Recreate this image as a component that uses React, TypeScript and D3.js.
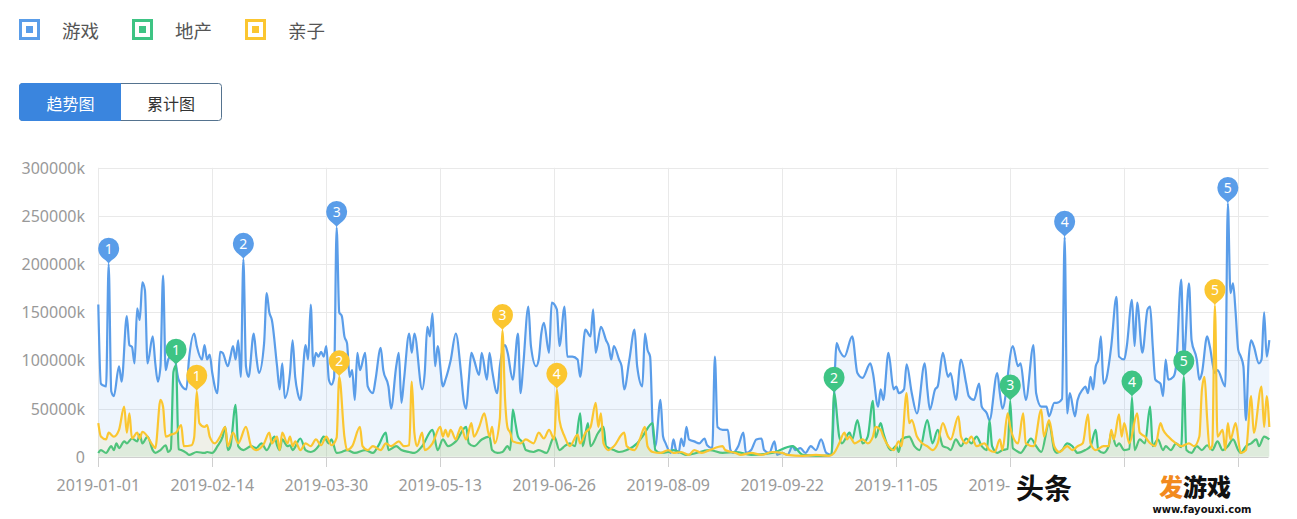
import React from "react";
import * as d3 from "d3";

// ---------- data ----------
const START = "2019-01-01";
const END = "2020-03-28";
const tickLabels = [
  "2019-01-01", "2019-02-14", "2019-03-30", "2019-05-13", "2019-06-26", "2019-08-09",
  "2019-09-22", "2019-11-05", "2019-12-19", "2020-02-01", "2020-03-16",
];
// tick labels hidden under the watermark in the reference
const hiddenTickLabels = ["2020-02-01", "2020-03-16"];
// values in units of 1000k
const yTicks = [0, 50, 100, 150, 200, 250, 300];
const seriesNames = ["游戏", "地产", "亲子"];
const buttonLabels = ["趋势图", "累计图"];

// [day offset from START, value]
const gamePoints: [number, number][] = [
  [0,158],[1,76],[2,74],[3,73],[4,200],[5,68],[6,63],[8,94],[9,78],[11,146],[12,116],[13,114],[14,97],[15,154],[16,142],[17,181],[18,173],[19,97],[21,125],[22,97],[23,78],[24,94],[25,188],[26,90],[27,101],[29,108],[31,80],[34,70],[35,101],[37,128],[38,115],[40,101],[41,116],[42,101],[43,106],[44,87],[46,66],[47,109],[48,108],[50,94],[51,104],[52,115],[53,101],[54,121],[55,83],[56,205],[57,94],[58,83],[60,128],[61,104],[62,87],[64,118],[65,170],[66,150],[67,142],[69,94],[70,70],[71,97],[72,61],[74,87],[75,121],[76,83],[77,66],[78,59],[80,116],[81,101],[82,158],[83,94],[84,108],[85,104],[86,109],[87,104],[88,115],[89,80],[90,75],[91,82],[92,238],[93,150],[94,146],[95,125],[96,118],[97,83],[98,90],[99,59],[100,108],[101,90],[103,108],[104,73],[106,66],[107,80],[109,113],[110,90],[112,73],[113,50],[115,94],[116,108],[117,56],[118,80],[120,128],[121,108],[122,128],[125,70],[126,87],[127,135],[128,125],[129,149],[130,94],[131,115],[133,73],[134,80],[136,100],[138,128],[140,87],[141,59],[142,50],[143,80],[144,108],[145,101],[147,85],[148,108],[150,80],[151,108],[152,90],[154,66],[155,94],[157,116],[158,108],[160,80],[162,128],[163,66],[164,94],[166,156],[167,115],[169,94],[170,101],[171,128],[172,139],[174,108],[175,160],[177,153],[178,115],[180,156],[181,104],[183,104],[185,101],[186,83],[188,132],[190,125],[191,153],[192,108],[194,135],[196,121],[197,115],[198,101],[199,115],[201,101],[202,94],[203,70],[205,101],[207,132],[208,94],[210,73],[211,128],[212,111],[213,104],[214,31],[215,11],[217,59],[218,21],[219,14],[221,4],[222,18],[223,7],[224,4],[225,19],[226,11],[227,31],[228,18],[230,16],[232,14],[234,19],[235,12],[237,9],[238,104],[239,31],[241,28],[243,28],[244,7],[245,4],[247,11],[249,25],[250,4],[252,7],[254,18],[256,19],[257,7],[259,4],[261,16],[262,2],[264,4],[266,2],[268,11],[269,7],[271,9],[273,4],[275,11],[277,7],[279,18],[281,4],[283,2],[285,118],[286,111],[288,104],[291,125],[293,87],[295,82],[298,97],[299,87],[301,52],[302,70],[303,59],[305,108],[307,70],[308,73],[309,66],[311,70],[312,96],[314,66],[316,45],[319,97],[320,70],[321,49],[323,70],[324,73],[326,108],[328,83],[329,87],[331,59],[333,101],[335,76],[336,63],[338,59],[340,76],[341,52],[343,45],[344,38],[347,87],[348,66],[349,50],[353,115],[355,94],[356,97],[358,59],[361,116],[362,66],[364,52],[366,52],[367,42],[369,56],[370,56],[372,60],[373,228],[374,45],[375,66],[377,42],[378,59],[380,70],[381,73],[382,66],[383,83],[384,70],[385,94],[386,101],[387,125],[388,76],[389,80],[391,115],[393,166],[394,104],[396,101],[397,115],[399,163],[400,115],[401,160],[403,108],[405,153],[406,156],[407,115],[408,80],[410,76],[411,63],[412,101],[413,80],[415,83],[416,94],[418,184],[419,101],[421,180],[422,121],[424,101],[425,80],[426,87],[428,125],[429,115],[431,87],[432,90],[435,73],[436,263],[437,170],[438,180],[439,150],[440,111],[441,104],[442,94],[443,38],[444,100],[445,121],[446,115],[448,97],[449,101],[450,150],[451,104],[452,121],
];

const estatePoints: [number, number][] = [
  [0,4],[1,7],[3,4],[5,11],[6,7],[7,14],[8,9],[10,16],[11,14],[13,19],[15,16],[16,23],[17,14],[19,21],[21,7],[22,4],[24,7],[26,12],[27,5],[28,8],[29,88],[30,95],[31,8],[32,7],[34,4],[35,2],[38,5],[41,4],[42,5],[44,4],[46,11],[48,21],[49,31],[50,7],[51,11],[53,54],[54,11],[56,7],[59,11],[61,9],[63,14],[65,7],[68,21],[69,12],[70,7],[71,18],[73,11],[74,12],[75,7],[78,19],[80,7],[82,5],[85,11],[87,21],[89,14],[90,18],[92,4],[94,5],[96,7],[99,4],[103,7],[106,4],[108,11],[111,25],[112,7],[115,11],[117,7],[120,5],[122,4],[125,11],[129,28],[131,7],[133,18],[135,11],[138,16],[142,31],[143,14],[145,11],[148,18],[151,21],[152,7],[154,4],[156,5],[158,11],[159,7],[160,49],[161,35],[162,21],[164,14],[165,7],[168,5],[170,7],[173,4],[176,21],[178,7],[180,11],[182,14],[184,11],[186,45],[187,11],[189,35],[190,11],[193,25],[195,31],[196,11],[199,7],[201,5],[204,7],[208,14],[210,21],[214,35],[215,7],[217,4],[220,5],[222,7],[225,4],[227,2],[236,7],[241,4],[246,5],[252,2],[260,4],[268,11],[272,2],[279,1],[283,2],[284,66],[286,21],[287,14],[290,25],[291,18],[293,38],[295,14],[297,21],[299,58],[300,20],[302,35],[303,25],[306,7],[308,11],[309,5],[310,18],[313,21],[315,11],[317,7],[320,38],[322,14],[324,28],[326,11],[328,9],[329,7],[331,18],[333,11],[335,19],[337,14],[339,21],[341,11],[343,7],[344,38],[345,11],[347,4],[349,7],[351,8],[352,58],[353,9],[354,7],[356,4],[358,11],[360,19],[362,11],[364,5],[367,35],[369,7],[370,4],[372,7],[374,14],[376,11],[378,4],[381,7],[383,11],[385,28],[386,7],[388,4],[390,11],[391,25],[393,11],[394,14],[396,7],[398,8],[399,62],[400,7],[402,18],[404,14],[406,52],[407,11],[409,18],[411,7],[412,11],[414,7],[416,14],[418,10],[419,83],[420,7],[422,4],[424,11],[426,7],[428,12],[430,7],[432,16],[434,7],[436,11],[438,18],[440,7],[441,4],[443,11],[445,14],[447,18],[448,11],[450,21],[452,18],
];

const parentPoints: [number, number][] = [
  [0,35],[1,21],[3,18],[4,25],[6,21],[8,28],[10,52],[11,25],[12,45],[13,19],[15,25],[16,19],[17,26],[19,21],[21,12],[22,9],[24,59],[25,52],[26,21],[28,23],[30,25],[32,33],[33,11],[36,12],[37,20],[38,68],[39,35],[41,31],[42,33],[43,21],[45,14],[47,21],[49,31],[50,11],[52,25],[54,14],[57,31],[59,11],[61,7],[64,14],[66,25],[67,14],[69,21],[70,7],[71,25],[73,14],[74,21],[75,11],[76,16],[78,7],[80,14],[82,11],[84,18],[86,12],[88,21],[90,12],[92,20],[93,83],[95,21],[96,7],[98,11],[101,31],[102,11],[104,7],[106,11],[109,7],[111,14],[113,11],[116,16],[118,11],[120,12],[121,78],[122,25],[123,11],[125,25],[126,7],[129,14],[132,31],[133,21],[134,28],[135,21],[136,28],[138,18],[139,25],[140,31],[142,18],[144,35],[145,21],[147,31],[149,45],[151,21],[152,31],[153,14],[155,40],[156,131],[157,60],[158,30],[159,25],[160,16],[163,14],[165,18],[168,14],[170,25],[172,19],[174,28],[176,18],[177,70],[178,38],[180,21],[182,11],[185,23],[186,14],[188,25],[190,31],[192,56],[193,31],[194,45],[195,14],[197,7],[199,11],[203,25],[204,11],[207,7],[209,18],[211,31],[212,11],[214,5],[217,4],[220,7],[222,4],[225,5],[228,2],[230,7],[233,4],[236,7],[241,11],[242,7],[246,4],[248,2],[252,4],[256,2],[260,5],[264,4],[266,2],[272,1],[277,2],[282,1],[284,4],[286,14],[288,25],[289,18],[290,21],[292,14],[295,18],[297,14],[299,21],[300,31],[302,28],[303,21],[305,11],[307,7],[309,16],[310,11],[312,66],[313,35],[314,38],[316,21],[318,14],[320,11],[322,7],[324,14],[326,35],[328,21],[329,18],[332,42],[333,21],[335,14],[337,21],[339,11],[342,14],[344,7],[346,5],[348,18],[349,7],[351,45],[352,31],[355,14],[357,45],[358,14],[361,11],[364,49],[365,21],[367,38],[369,11],[371,5],[374,11],[376,7],[378,11],[380,14],[382,44],[383,14],[385,7],[388,11],[390,11],[391,28],[392,18],[394,44],[395,21],[396,35],[398,14],[401,45],[402,25],[404,21],[406,14],[408,11],[410,35],[411,28],[413,21],[416,14],[418,11],[421,14],[423,11],[425,21],[426,70],[427,83],[428,40],[429,8],[430,12],[431,157],[432,21],[434,28],[435,7],[436,35],[437,18],[439,35],[441,4],[443,7],[445,63],[446,25],[449,73],[450,31],[451,63],[452,31],
];

// day offsets of the numbered pins
const gameMarks = [4, 56, 92, 373, 436];
const estateMarks = [30, 284, 352, 399, 419];
const parentMarks = [38, 93, 156, 177, 431];

// ---------- styles ----------
const COLORS = ["#5a9de9", "#3ec484", "#fbc630"];
const AXIS_FONT = "'Noto Sans', 'Noto Sans CJK SC', sans-serif";
const CJK_FONT = "'Noto Sans CJK SC', 'Noto Sans', sans-serif";

function pinPath(x: number, tipY: number, r: number, h: number) {
  const cy = tipY - h;
  return `M${x},${tipY} C${x - r * 0.15},${tipY - h * 0.3} ${x - r},${cy + r * 0.95} ${x - r},${cy} A${r},${r} 0 1 1 ${x + r},${cy} C${x + r},${cy + r * 0.95} ${x + r * 0.15},${tipY - h * 0.3} ${x},${tipY} Z`;
}

export default function App() {
  const parse = d3.utcParse("%Y-%m-%d");
  const start = parse(START) as Date;
  const end = parse(END) as Date;
  const left = 98.3;
  const right = 1269.3;
  const x = d3.scaleUtc().domain([start, end]).range([left, right]);
  const y = d3.scaleLinear().domain([0, 300]).range([456.8, 167.8]);
  const dx = (d: number) => x(d3.utcDay.offset(start, d));
  const plotRight = 1268.5;

  const series = [
    { name: seriesNames[0], color: COLORS[0], pts: gamePoints, marks: gameMarks },
    { name: seriesNames[1], color: COLORS[1], pts: estatePoints, marks: estateMarks },
    { name: seriesNames[2], color: COLORS[2], pts: parentPoints, marks: parentMarks },
  ];

  const line = d3
    .line<[number, number]>()
    .x((p) => dx(p[0]))
    .y((p) => y(p[1]))
    .curve(d3.curveMonotoneX);
  const area = d3
    .area<[number, number]>()
    .x((p) => dx(p[0]))
    .y0(y(0))
    .y1((p) => y(p[1]))
    .curve(d3.curveMonotoneX);

  const tickDates = tickLabels.map((t) => parse(t) as Date);

  return (
    <div style={{ position: "absolute", left: 0, top: 0 }}>
      <svg width={1297} height={519} style={{ display: "block", background: "#fff" }}>
        <defs>
          <clipPath id="wmclip">
            <rect x={0} y={0} width={1011} height={519} />
          </clipPath>
        </defs>
        {/* legend */}
        {series.map((s, i) => (
          <g key={s.name} transform={`translate(${19 + i * 113},0)`}>
            <rect x={1.5} y={20.5} width={18} height={18} fill="#fff" stroke={s.color} strokeWidth={3} />
            <rect x={7} y={26} width={7} height={7} fill={s.color} />
            <text x={43} y={29.5} dominantBaseline="central" fontFamily={CJK_FONT} fontSize={18.5} fill="#555">
              {s.name}
            </text>
          </g>
        ))}

        {/* buttons */}
        <rect x={19.5} y={83.5} width={202} height={37} rx={3} fill="#fff" stroke="#55738f" />
        <path d="M22.5,83.5 H120.5 V120.5 H22.5 Q19.5,120.5 19.5,117.5 V86.5 Q19.5,83.5 22.5,83.5 Z" fill="#3a85de" stroke="#3a85de" />
        <text x={70.5} y={102.5} textAnchor="middle" dominantBaseline="central" fontFamily={CJK_FONT} fontSize={16} fill="#fff">
          {buttonLabels[0]}
        </text>
        <text x={171} y={102.5} textAnchor="middle" dominantBaseline="central" fontFamily={CJK_FONT} fontSize={16} fill="#333">
          {buttonLabels[1]}
        </text>

        {/* grid */}
        {yTicks.map((t) => (
          <line key={"gy" + t} x1={left} x2={plotRight} y1={Math.round(y(t)) + 0.5} y2={Math.round(y(t)) + 0.5} stroke={t === 0 ? "#cfcfcf" : "#e9e9e9"} />
        ))}
        {tickDates.map((t, i) => (
          <line key={"gx" + i} x1={Math.round(x(t)) + 0.5} x2={Math.round(x(t)) + 0.5} y1={y(300)} y2={y(0)} stroke="#e9e9e9" />
        ))}
        {tickDates.map((t, i) => (
          <line key={"tk" + i} x1={Math.round(x(t)) + 0.5} x2={Math.round(x(t)) + 0.5} y1={457} y2={467} stroke="#cfcfcf" />
        ))}

        {/* y labels */}
        {yTicks.map((t) => (
          <text key={"yl" + t} x={85} y={y(t)} textAnchor="end" dominantBaseline="central" fontFamily={AXIS_FONT} fontSize={16} fill="#999">
            {t === 0 ? "0" : `${t * 1000}k`}
          </text>
        ))}
        {/* x labels */}
        {tickDates.map((t, i) =>
          hiddenTickLabels.includes(tickLabels[i]) ? null : (
            <text key={"xl" + i} x={x(t)} y={485} textAnchor="middle" dominantBaseline="central" fontFamily={AXIS_FONT} fontSize={16} fill="#999" clipPath="url(#wmclip)">
              {tickLabels[i]}
            </text>
          )
        )}

        {/* series */}
        {series.map((s) => (
          <g key={"s" + s.name}>
            <path d={area(s.pts) || ""} fill={s.color} fillOpacity={0.1} />
            <path d={line(s.pts) || ""} fill="none" stroke={s.color} strokeWidth={2.2} strokeLinejoin="round" />
          </g>
        ))}

        {/* pins */}
        {series.map((s) =>
          s.marks.map((m, k) => {
            const p = s.pts.find((q) => q[0] === m) as [number, number];
            const px = dx(p[0]);
            const py = y(p[1]);
            return (
              <g key={s.name + "m" + k}>
                <path d={pinPath(px, py, 10.5, 16)} fill={s.color} />
                <text x={px} y={py - 16} textAnchor="middle" dominantBaseline="central" fontFamily={AXIS_FONT} fontSize={14} fill="#fff">
                  {k + 1}
                </text>
              </g>
            );
          })
        )}

        {/* watermarks */}
        <rect x={1011} y={469} width={66} height={36} fill="#fff" />
        <text x={1044} y={487} textAnchor="middle" dominantBaseline="central" fontFamily={CJK_FONT} fontSize={28} fontWeight={700} fill="#111">
          头条
        </text>
        <text x={1159} y={485} dominantBaseline="central" fontFamily={CJK_FONT} fontSize={24} fontWeight={900}>
          <tspan fill="#f28a1d">发</tspan>
          <tspan fill="#111">游戏</tspan>
        </text>
        <text x={1202} y={513} textAnchor="middle" fontFamily="'DejaVu Sans', sans-serif" fontSize={10} fontWeight={700} fill="#111">
          www.fayouxi.com
        </text>
      </svg>
    </div>
  );
}
